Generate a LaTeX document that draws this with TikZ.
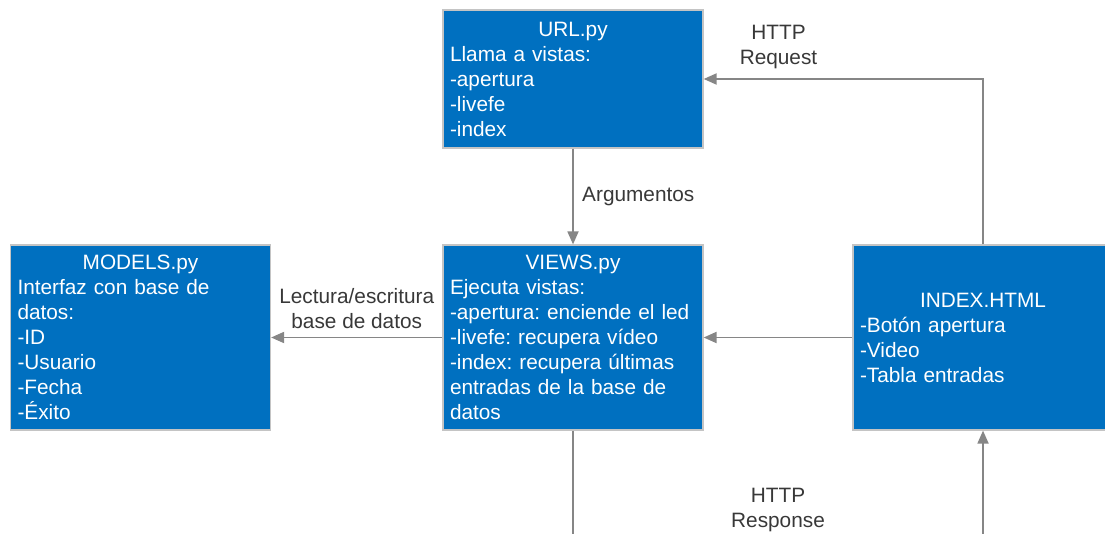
\documentclass[tikz,border=0pt]{standalone}
\usepackage{fontspec}
\setmainfont{Liberation Sans}
\usetikzlibrary{arrows.meta, positioning}

\definecolor{azulmod}{HTML}{0070C0}
\definecolor{bordemod}{HTML}{C4C4C4}
\definecolor{grisflecha}{HTML}{868686}
\definecolor{gristexto}{HTML}{383838}

\newcommand{\titulo}[1]{\makebox[\linewidth][c]{#1}}
\frenchspacing

\begin{document}
\begin{tikzpicture}[x=1pt, y=-1pt, font=\fontsize{20.8pt}{25pt}\selectfont]
			\tikzstyle{modulo}=[
			rectangle, draw=bordemod, line width=1.2pt, fill=azulmod,
			text=white, inner xsep=7pt, inner ysep=3pt,
			text width=246pt, minimum width=260pt, align=left
			]
			\tikzstyle{flecha}=[
			draw=grisflecha, line width=1.8pt,
			-{Triangle[length=13pt, width=11pt, fill=grisflecha]}
			]
			\tikzstyle{etiqueta}=[text=gristexto, align=center]
			
			\useasboundingbox (0,0) rectangle (1105,534);
			\clip (0,0) rectangle (1105,534);
			
			\node[modulo, minimum height=138pt] (url) at (573,79)
			{\titulo{URL.py}\\Llama a vistas:\\-apertura\\-livefe\\-index};
			\node[modulo, minimum height=185pt] (views) at (573,337.5)
			{\titulo{VIEWS.py}\\Ejecuta vistas:\\-apertura: enciende el led\\-livefe: recupera vídeo\\-index: recupera últimas\\entradas de la base de\\datos};
			\node[modulo, minimum height=185pt] (models) at (140.5,337.5)
			{\titulo{MODELS.py}\\Interfaz con base de\\datos:\\-ID\\-Usuario\\-Fecha\\-Éxito};
			\node[modulo, minimum height=185pt] (index) at (983,337.5)
			{\titulo{INDEX.HTML}\\-Botón apertura\\-Video\\-Tabla entradas};
			
			\coordinate (giro) at (778,550);
			
			\draw[flecha] (index.north) |- node[etiqueta, pos=0.866, above=6pt] {HTTP\\Request} (url.east);
			\draw[flecha] (url) -- node[etiqueta, right=5pt] {Argumentos} (views);
			\draw[flecha] (index) -- (views);
			\draw[flecha] (views) -- node[etiqueta, above=5pt] {Lectura/escritura\\base de datos} (models);
			\draw[flecha] (views.south) |- (giro) node[etiqueta, above=14pt] {HTTP\\Response} -| (index.south);
		\end{tikzpicture}
\end{document}
